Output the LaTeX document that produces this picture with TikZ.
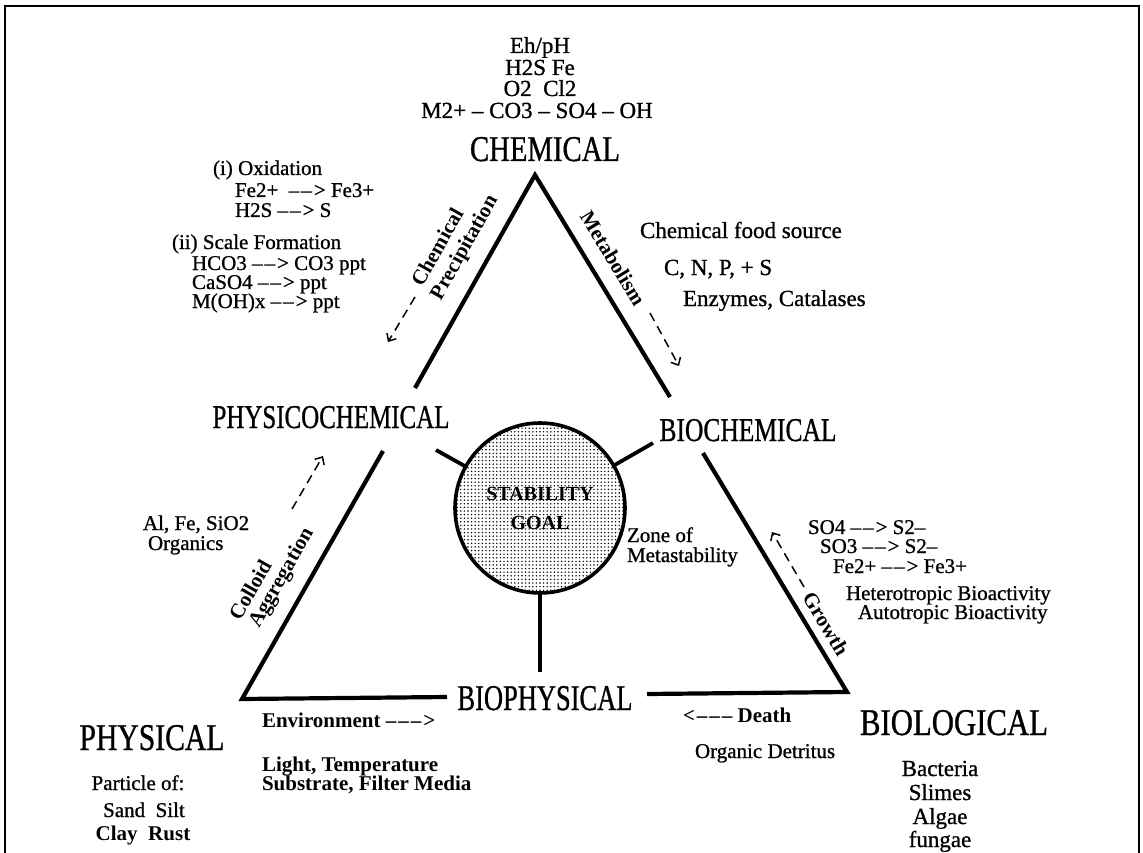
\documentclass[tikz,border=0pt]{standalone}
\usepackage{fontspec}
\setmainfont{Liberation Serif}[BoldFont={Liberation Serif},BoldFeatures={FakeBold=0.9}]
\newfontfamily\hb{Liberation Serif Bold}
\usepackage{graphicx}
\usetikzlibrary{arrows.meta,patterns.meta}
\newcommand\ra{\textendash\kern2pt\textendash\kern2pt>}
\newcommand\rra{\textendash\kern2pt\textendash\kern2pt\textendash\kern2pt>}
\newcommand\lla{<\kern2pt\textendash\kern2pt\textendash\kern2pt\textendash}
\newcommand\bigtxt[3]{\resizebox{#1}{#2}{\bfseries #3}}
\begin{document}
\begin{tikzpicture}[x=1pt,y=-1pt,
  every node/.style={inner sep=0pt,outer sep=0pt},
  tb/.style={font=\fontsize{21}{25}\selectfont\bfseries},
  tbb/.style={font=\fontsize{21}{25}\selectfont\hb},
  tm/.style={font=\fontsize{23}{27}\selectfont\bfseries},
  rot/.style={font=\fontsize{21}{25}\selectfont\hb},
  big/.style={anchor=base},
  edge/.style={line width=4.2pt,line join=miter,line cap=butt},
  spoke/.style={line width=3.8pt},
  flow/.style={line width=1.5pt,dash pattern=on 9pt off 6pt,-{Straight Barb[length=6pt,width=11pt,line width=1.5pt]}},
  frame/.style={line width=2.5pt}]
\useasboundingbox (0,0) rectangle (1143,853);
\fill[white] (0,0) rectangle (1143,853);
% frame
\draw[frame] (5,853) -- (5,6) -- (1139,6) -- (1139,853);

% top block
\node[tm,anchor=base] (eh) at (540,53) {Eh/pH};
\node[tm,anchor=base] (hs) at (540,75) {H2S Fe};
\node[tm,anchor=base] (oc) at (540,96) {O2\ \ Cl2};
\node[tm,anchor=base] (ions) at (537,118) {M2+ \textendash{} CO3 \textendash{} SO4 \textendash{} OH};

% main labels
\node[big] (chem) at (545,161) {\bigtxt{150pt}{24pt}{CHEMICAL}};
\node[big] (pchem) at (331,428) {\bigtxt{237pt}{22pt}{PHYSICOCHEMICAL}};
\node[big] (bchem) at (748,441) {\bigtxt{177pt}{22pt}{BIOCHEMICAL}};
\node[big] (bphys) at (545,710) {\bigtxt{175pt}{24pt}{BIOPHYSICAL}};
\node[big] (phys) at (152,750) {\bigtxt{145pt}{25pt}{PHYSICAL}};
\node[big] (biol) at (954,735) {\bigtxt{188pt}{25pt}{BIOLOGICAL}};

% triangle
\coordinate (A) at (535,175);
\coordinate (Lu) at (415,388);
\coordinate (Ll) at (383,451);
\coordinate (L) at (242,699);
\coordinate (Bl) at (447,697);
\coordinate (Br) at (647,694);
\coordinate (R) at (847,692);
\coordinate (Rl) at (703,453);
\coordinate (Ru) at (670,397);
\draw[edge] (Lu) -- (A) -- (Ru);
\draw[edge] (Ll) -- (L) -- (Bl);
\draw[edge] (Br) -- (R) -- (Rl);

% stability goal
\node[circle,draw,line width=3.6pt,minimum size=170pt,
      pattern={Dots[distance=3.6pt,radius=0.8pt]},
      font=\fontsize{20}{29}\selectfont\hb,align=center] (goal) at (540,508) {STABILITY\\GOAL};
\coordinate (sUL) at (436,450);
\coordinate (sUR) at (653,443);
\coordinate (sB) at (540,672);
\draw[spoke] (goal) -- (sUL);
\draw[spoke] (goal) -- (sUR);
\draw[spoke] (goal) -- (sB);

% rotated edge labels
\node[rot,rotate=60.6] (lchem) at (437,247) {Chemical};
\node[rot,rotate=60.6] (lprec) at (465,248) {Precipitation};
\node[rot,rotate=60.4] (lcoll) at (250,590) {Colloid};
\node[rot,rotate=60.4] (laggr) at (282,578) {Aggregation};
\node[rot,rotate=-58.7] (lmeta) at (613,258) {Metabolism};
\node[rot,rotate=-58.8] (lgrow) at (826,624) {Growth};

% dashed flow arrows
\coordinate (cp1) at (415,297); \coordinate (cp2) at (388,342);
\coordinate (mb1) at (650,313); \coordinate (mb2) at (679,366);
\coordinate (ca1) at (292,509); \coordinate (ca2) at (323,456);
\coordinate (gr1) at (804,587); \coordinate (gr2) at (772,532);
\draw[flow] (cp1) -- (cp2);
\draw[flow] (mb1) -- (mb2);
\draw[flow] (ca1) -- (ca2);
\draw[flow] (gr1) -- (gr2);

% chemical notes (left)
\node[tb,anchor=base west] (ox) at (213,175) {(i) Oxidation};
\node[tb,anchor=base west] (ox1) at (235,197) {Fe2+\ \ \ra{} Fe3+};
\node[tb,anchor=base west] (ox2) at (235,217) {H2S \ra{} S};
\node[tb,anchor=base west] (sc) at (172,249) {(ii) Scale Formation};
\node[tb,anchor=base west] (sc1) at (192,270) {HCO3 \ra{} CO3 ppt};
\node[tb,anchor=base west] (sc2) at (192,289) {CaSO4 \ra{} ppt};
\node[tb,anchor=base west] (sc3) at (192,308) {M(OH)x \ra{} ppt};

% biochemical notes (upper right)
\node[tm,anchor=base west] (food) at (640,238) {Chemical food source};
\node[tm,anchor=base west] (cnps) at (664,275) {C, N, P, + S};
\node[tm,anchor=base west] (enz) at (683,306) {Enzymes, Catalases};

% zone
\node[tb,anchor=base west] (zone1) at (627,542) {Zone of};
\node[tb,anchor=base west] (zone2) at (627,562) {Metastability};

% physicochemical notes
\node[tb,anchor=base west] (alfe) at (143,530) {Al, Fe, SiO2};
\node[tb,anchor=base west] (org) at (148,550) {Organics};

% biological notes (right)
\node[tb,anchor=base west] (so4) at (808,534) {SO4 \ra{} S2\textendash};
\node[tb,anchor=base west] (so3) at (820,553) {SO3 \ra{} S2\textendash};
\node[tb,anchor=base west] (fe) at (833,573) {Fe2+ \ra{} Fe3+};
\node[tb,anchor=base west] (het) at (846,600) {Heterotropic Bioactivity};
\node[tb,anchor=base west] (aut) at (858,619) {Autotropic Bioactivity};

% bottom notes
\node[tbb,anchor=base west] (env) at (262,727) {Environment \rra};
\node[tbb,anchor=base west] (light) at (262,771) {Light, Temperature};
\node[tbb,anchor=base west] (subs) at (262,790) {Substrate, Filter Media};
\node[tbb,anchor=base west] (death) at (683,722) {\lla{} Death};
\node[tb,anchor=base west] (detr) at (695,758) {Organic Detritus};

\node[tb,anchor=base] (part) at (138,790) {Particle of:};
\node[tb,anchor=base] (sand) at (144,817) {Sand\ \ Silt};
\node[tbb,anchor=base] (clay) at (143,840) {Clay\ \ Rust};

\node[tm,anchor=base] (bact) at (940,776) {Bacteria};
\node[tm,anchor=base] (slim) at (940,800) {Slimes};
\node[tm,anchor=base] (alg) at (940,824) {Algae};
\node[tm,anchor=base] (fung) at (940,847) {fungae};
\end{tikzpicture}
\end{document}
